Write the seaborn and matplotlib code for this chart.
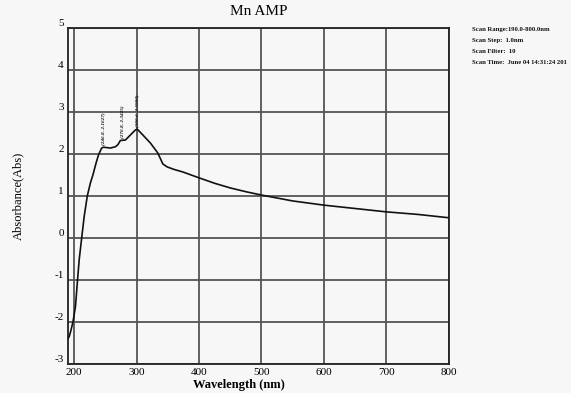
import matplotlib
matplotlib.use("Agg")
import matplotlib.pyplot as plt
import seaborn as sns
import pandas as pd

wavelength = [190, 192, 195, 198, 202, 205, 208, 212, 216, 221, 226, 230, 235, 239,
              244, 247, 252, 258, 266, 270, 274, 282, 290, 298, 301, 310, 322, 334,
              342, 349, 360, 374, 400, 425, 450, 475, 500, 525, 550, 575, 600, 650,
              700, 750, 800]
absorbance = [-2.40, -2.35, -2.19, -2.00, -1.64, -1.07, -0.52, 0.00, 0.51, 1.00, 1.31,
              1.50, 1.78, 1.98, 2.14, 2.16, 2.15, 2.14, 2.17, 2.22, 2.32, 2.33, 2.45,
              2.57, 2.59, 2.45, 2.26, 2.02, 1.76, 1.69, 1.63, 1.57, 1.43, 1.30, 1.19,
              1.10, 1.02, 0.95, 0.88, 0.83, 0.78, 0.70, 0.62, 0.56, 0.48]

peak_x = [246.8, 276.8, 300.6]
peak_y = [2.1627, 2.3425, 2.5900]
peak_labels = ["(246.8, 2.1627)", "(276.8, 2.3425)", "(300.6, 2.5900)"]

x_ticks = [200, 300, 400, 500, 600, 700, 800]
y_ticks = [-3, -2, -1, 0, 1, 2, 3, 4, 5]

info_lines = ["Scan Range:190.0-800.0nm", "Scan Step:  1.0nm",
              "Scan Filter:  10", "Scan Time:  June 04 14:31:24 201"]

df = pd.DataFrame({"Wavelength": wavelength, "Absorbance": absorbance})

plt.rcParams["font.family"] = ["Liberation Serif", "DejaVu Serif"]
plt.rcParams["axes.unicode_minus"] = False
bg = "#f7f7f7"
fig = plt.figure(figsize=(5.71, 3.93), dpi=100, facecolor=bg)
ax = fig.add_axes([0.119, 0.074, 0.667, 0.855], facecolor=bg)

sns.lineplot(data=df, x="Wavelength", y="Absorbance", ax=ax, color="#111111",
             linewidth=1.2, zorder=3)

ax.set_xlim(190, 800)
ax.set_ylim(-3, 5)
ax.set_xticks(x_ticks)
ax.set_yticks(y_ticks)
ax.grid(True, color="#555555", linewidth=1.3)
ax.set_axisbelow(True)
for s in ax.spines.values():
    s.set_color("#222222")
    s.set_linewidth(1.3)
ax.tick_params(length=0, labelsize=8, pad=3)
ax.tick_params(axis="y", pad=3)
for lab in ax.get_yticklabels():
    lab.set_verticalalignment("bottom")

ax.set_title("Mn AMP", fontsize=11, pad=9)
ax.set_xlabel("Wavelength (nm)", fontsize=9, fontweight="bold", labelpad=2)
ax.xaxis.set_label_coords(0.45, -0.045)
ax.set_ylabel("Absorbance(Abs)", fontsize=9, labelpad=22)

for px, py, lab in zip(peak_x, peak_y, peak_labels):
    ax.text(px, py + 0.04, lab, rotation=90, ha="center", va="bottom",
            fontsize=3.8, fontstyle="italic", fontweight="bold", color="#111111")

for i, line in enumerate(info_lines):
    fig.text(0.826, 0.925 - i * 0.028, line, fontsize=4.8, fontweight="bold",
             ha="left", va="center", color="#111111")

fig.savefig("out.png", dpi=100, facecolor=bg)
